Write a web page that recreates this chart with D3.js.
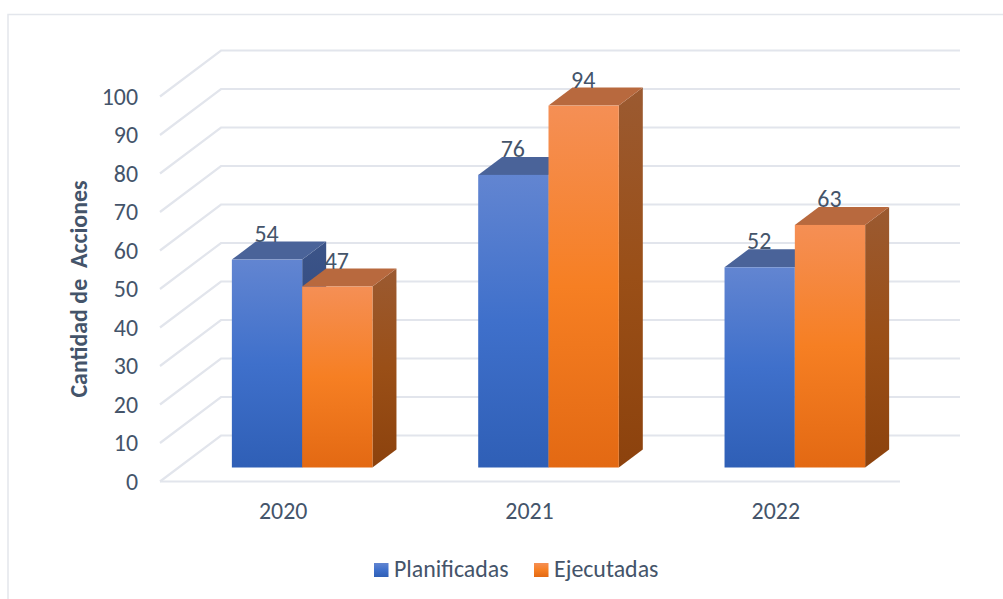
<!DOCTYPE html>
<html><head><meta charset="utf-8">
<script src="https://cdn.jsdelivr.net/npm/d3@7/dist/d3.min.js"></script>
<style>html,body{margin:0;padding:0;background:#fff;overflow:hidden}svg{display:block}text{font-family:Carlito,Lato,"Open Sans",sans-serif;fill:#44546a}</style>
</head><body><svg id="c" width="1003" height="599"></svg>
<script>
const years = ["2020","2021","2022"];
const seriesNames = ["Planificadas","Ejecutadas"];
const planificadas = [54,76,52];
const ejecutadas = [47,94,63];
const yTicks = [0,10,20,30,40,50,60,70,80,90,100];
const yTitle = "Cantidad de\u00A0 Acciones";

const svg = d3.select("#c");
const FS = 23.9;
svg.append("path").attr("d","M8,599V14.5H1003").attr("fill","none").attr("stroke","#e3e6ec").attr("stroke-width",1.5);

const yFloor = d3.scaleLinear().domain([0,100]).range([481.5,96.5]);
const yBack = d3.scaleLinear().domain([0,100]).range([435.5,50.5]);
const yBar = d3.scaleLinear().domain([0,100]).range([467.5,82.5]);
const x0 = d3.scaleBand().domain(years).range([179,918]);
const barW = 70.3, depthX = 24, depthY = 18;
const xB = d3.scaleBand().domain(seriesNames).range([0,barW*2]);

const defs = svg.append("defs");
function grad(id,stops){
  const g = defs.append("linearGradient").attr("id",id).attr("x1",0).attr("y1",0).attr("x2",0).attr("y2",1);
  stops.forEach(([o,c])=>g.append("stop").attr("offset",o).attr("stop-color",c));
}
grad("g0",[[0,"#6285d1"],[.5,"#3f70cb"],[1,"#2f5fb6"]]);
grad("g1",[[0,"#f58f55"],[.5,"#f67f23"],[1,"#e36913"]]);
grad("s0",[[0,"#3c5488"],[1,"#223f78"]]);
grad("s1",[[0,"#9b5a31"],[.5,"#9a4f17"],[1,"#8c420d"]]);
const topC = ["#4a6399","#b8693e"];

const grid = svg.append("g").attr("fill","none").attr("stroke","#e2e5ec").attr("stroke-width",2.2);
yTicks.forEach(t=>{
  grid.append("path").attr("d",`M160,${yFloor(t)}L221,${yBack(t)}H960`);
});
grid.append("path").attr("d",`M160,${yFloor(0)}H900`);

const yAxis = d3.axisLeft(yFloor).tickValues(yTicks).tickSize(0).tickPadding(0);
const ax = svg.append("g").attr("transform","translate(138,0)").call(yAxis);
ax.select(".domain").remove();
ax.selectAll("text").attr("font-size",FS).style("font-family",'Carlito,Lato,sans-serif').attr("dy","0.32em").attr("fill","#44546a");

svg.append("text").attr("transform","translate(86.5,289) rotate(-90)").attr("text-anchor","middle")
  .attr("font-size",FS).attr("font-weight",700).text(yTitle);

const barsData = [planificadas,ejecutadas];
years.forEach((yr,i)=>{
  const bx = x0(yr)+(x0.bandwidth()-barW*2)/2;
  seriesNames.forEach((s,si)=>{
    const v = barsData[si][i];
    const x = bx + xB(s), w = barW, top = yBar(v), bot = yBar(0);
    const g = svg.append("g");
    g.append("path").attr("d",`M${x+w},${top}l${depthX},${-depthY}V${bot-depthY}L${x+w},${bot}Z`).attr("fill",`url(#s${si})`);
    g.append("path").attr("d",`M${x},${top}l${depthX},${-depthY}h${w}l${-depthX},${depthY}Z`).attr("fill",topC[si]);
    g.append("rect").attr("x",x).attr("y",top).attr("width",w).attr("height",bot-top).attr("fill",`url(#g${si})`);
  });
});
years.forEach((yr,i)=>{
  const bx = x0(yr)+(x0.bandwidth()-barW*2)/2;
  seriesNames.forEach((s,si)=>{
    const v = barsData[si][i];
    svg.append("text").attr("x",bx+xB(s)+barW/2-0.5).attr("y",yBar(v)-depthY)
      .attr("text-anchor","middle").attr("font-size",FS).text(v);
  });
});
years.forEach(yr=>{
  svg.append("text").attr("x",x0(yr)+x0.bandwidth()/2-19).attr("y",519).attr("text-anchor","middle").attr("font-size",FS).text(yr);
});
const lg = [[374,394],[534,554]];
seriesNames.forEach((s,si)=>{
  svg.append("rect").attr("x",lg[si][0]).attr("y",563).attr("width",14.5).attr("height",14).attr("fill",`url(#g${si})`);
  svg.append("text").attr("x",lg[si][1]).attr("y",577).attr("font-size",FS).text(s);
});
</script></body></html>
